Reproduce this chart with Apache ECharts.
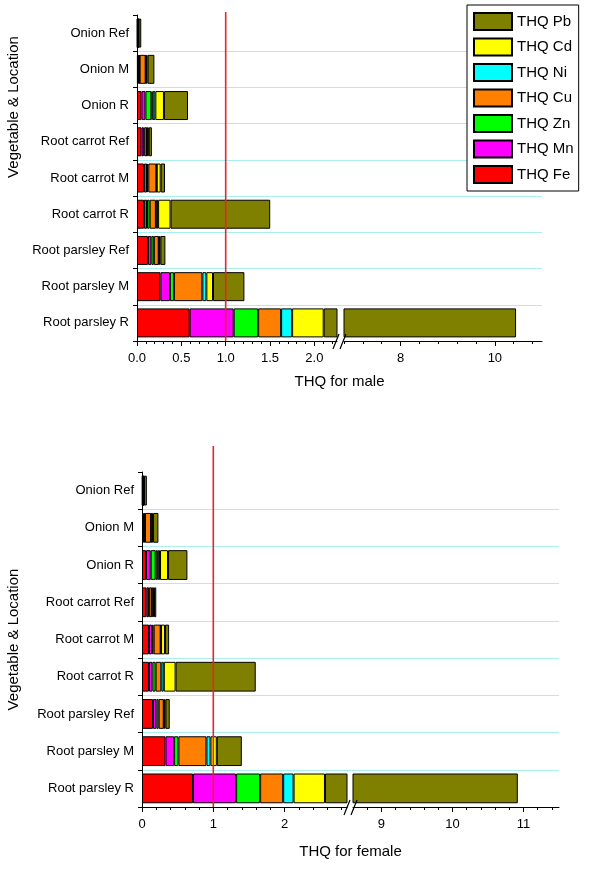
<!DOCTYPE html>
<html lang="en">
<head>
<meta charset="UTF-8">
<title>THQ</title>
<script src="https://cdn.jsdelivr.net/npm/echarts@6.0.0/dist/echarts.min.js"></script>
</head>
<body style="margin:0;background:#fff;">
<div id="main" style="width:600px;height:873px;"></div>
<script type="text/javascript">

    var categories = ['Onion Ref', 'Onion M', 'Onion R', 'Root carrot Ref', 'Root carrot M',
        'Root carrot R', 'Root parsley Ref', 'Root parsley M', 'Root parsley R'];
    var metals = ['THQ Fe', 'THQ Mn', 'THQ Zn', 'THQ Cu', 'THQ Ni', 'THQ Cd', 'THQ Pb'];
    var metalColors = ['#ff0000', '#ff00ff', '#00ff00', '#ff8000', '#00ffff', '#ffff00', '#808000'];
    var legendOrder = ['THQ Pb', 'THQ Cd', 'THQ Ni', 'THQ Cu', 'THQ Zn', 'THQ Mn', 'THQ Fe'];

    // male THQ, one value per category
    var maleFe = [0.005, 0.010, 0.050, 0.050, 0.079, 0.079, 0.124, 0.264, 0.594];
    var maleMn = [0.002, 0.015, 0.045, 0.025, 0.034, 0.034, 0.038, 0.108, 0.496];
    var maleZn = [0.002, 0.005, 0.067, 0.008, 0.015, 0.030, 0.028, 0.045, 0.276];
    var maleCu = [0.004, 0.068, 0.015, 0.030, 0.090, 0.070, 0.055, 0.320, 0.259];
    var maleNi = [0.002, 0.004, 0.030, 0.005, 0.005, 0.025, 0.006, 0.045, 0.124];
    var maleCd = [0.003, 0.018, 0.097, 0.015, 0.044, 0.140, 0.013, 0.075, 0.356];
    var malePb = [0.030, 0.076, 0.271, 0.035, 0.049, 1.124, 0.056, 0.354, 8.345];

    // female THQ
    var femaleFe = [0.008, 0.015, 0.056, 0.061, 0.098, 0.098, 0.155, 0.329, 0.716];
    var femaleMn = [0.003, 0.020, 0.066, 0.033, 0.042, 0.048, 0.047, 0.121, 0.604];
    var femaleZn = [0.003, 0.007, 0.070, 0.008, 0.024, 0.045, 0.032, 0.061, 0.337];
    var femaleCu = [0.006, 0.085, 0.030, 0.038, 0.098, 0.080, 0.071, 0.393, 0.323];
    var femaleNi = [0.003, 0.005, 0.031, 0.006, 0.005, 0.035, 0.008, 0.057, 0.146];
    var femaleCd = [0.005, 0.023, 0.112, 0.022, 0.056, 0.165, 0.016, 0.088, 0.440];
    var femalePb = [0.040, 0.075, 0.272, 0.032, 0.057, 1.124, 0.060, 0.351, 8.354];

    var threshold = 1;

    // broken axes: [left part, right part]
    var maleRange = [[0, 2.255], [6.8, 11]];
    var femaleRange = [[0, 2.875], [8.6, 11.5]];

    var maleMajor = [[0, 0.5, 1, 1.5, 2], [8, 10]];
    var maleMinor = [[0.1, 0.2, 0.3, 0.4, 0.6, 0.7, 0.8, 0.9, 1.1, 1.2, 1.3, 1.4, 1.6, 1.7, 1.8, 1.9, 2.1, 2.2],
        [6.8, 7.2, 7.6, 8.4, 8.8, 9.2, 9.6, 10.4, 10.8]];
    var femaleMajor = [[0, 1, 2], [9, 10, 11]];
    var femaleMinor = [[0.2, 0.4, 0.6, 0.8, 1.2, 1.4, 1.6, 1.8, 2.2, 2.4, 2.6, 2.8],
        [8.6, 8.8, 9.2, 9.4, 9.6, 9.8, 10.2, 10.4, 10.6, 10.8, 11.2, 11.4]];

    var FONT = 'Liberation Sans, Arial, sans-serif';
    var CYAN = '#a8f0f0';

    var myChart = echarts.init(document.getElementById('main'));

    var grid = [
        {left: 137, top: 15, width: 200, height: 326},   // 0 male left
        {left: 344, top: 15, width: 198, height: 326},   // 1 male right
        {left: 137, top: 12, width: 200, height: 329},   // 2 male threshold
        {left: 142, top: 472, width: 205, height: 335},  // 3 female left
        {left: 353, top: 472, width: 206, height: 335},  // 4 female right
        {left: 142, top: 446, width: 205, height: 361},  // 5 female threshold
        {left: 137, top: 15, width: 405, height: 326},   // 6 male full width (grid lines, title)
        {left: 142, top: 472, width: 417, height: 335}   // 7 female full width
    ];

    var xAxis = [], yAxis = [], series = [];

    function mainX(gi, range, major, fmt) {
        xAxis.push({
            type: 'value', gridIndex: gi, position: 'bottom',
            min: range[0], max: range[1],
            axisLine: {show: true, lineStyle: {color: '#000', width: 1}},
            axisTick: {show: true, length: 5, customValues: major, lineStyle: {color: '#000'}},
            axisLabel: {customValues: major, fontSize: 13, color: '#000', margin: 11,
                formatter: fmt},
            splitLine: {show: false}
        });
    }

    function thresholdX(gi, range) {
        xAxis.push({type: 'value', gridIndex: gi, min: range[0], max: range[1], show: false});
    }

    function minorX(gi, range, minor) {
        xAxis.push({
            type: 'value', gridIndex: gi, position: 'bottom',
            min: range[0], max: range[1],
            axisLine: {show: false},
            axisTick: {show: true, length: 3, customValues: minor, lineStyle: {color: '#000'}},
            axisLabel: {show: false},
            splitLine: {show: false}
        });
    }

    function titleX(gi, name, gap) {
        xAxis.push({
            type: 'value', gridIndex: gi, position: 'bottom', min: 0, max: 1,
            name: name, nameLocation: 'middle', nameGap: gap,
            nameTextStyle: {fontSize: 15, color: '#000'},
            axisLine: {show: false}, axisTick: {show: false},
            axisLabel: {show: false}, splitLine: {show: false}
        });
    }

    function catY(gi, withLabels, name, pad, gap) {
        yAxis.push({
            type: 'category', gridIndex: gi, data: categories, inverse: true,
            name: withLabels ? name : '', nameLocation: 'middle', nameGap: gap,
            nameTextStyle: {fontSize: 15, color: '#000', padding: [0, 0, 0, pad]},
            axisLine: {show: withLabels, lineStyle: {color: '#000', width: 1}},
            axisTick: {show: withLabels, length: 4, lineStyle: {color: '#000'}},
            axisLabel: {show: withLabels, fontSize: 13, color: '#000', margin: 8},
            splitLine: {show: false}
        });
    }

    function gridLinesY(gi) {
        yAxis.push({
            type: 'category', gridIndex: gi, data: categories, inverse: true,
            axisLine: {show: false}, axisTick: {show: false}, axisLabel: {show: false},
            splitLine: {show: true, interval: 0, showMinLine: false, showMaxLine: false,
                lineStyle: {color: CYAN, width: 1}}
        });
    }

    function addStack(values, xi, key) {
        for (var i = 0; i < metals.length; i++) {
            series.push({
                type: 'bar', name: metals[i], stack: key,
                xAxisIndex: xi, yAxisIndex: xi,
                data: values[i], barCategoryGap: '20%', clip: true,
                itemStyle: {color: metalColors[i], borderColor: '#000', borderWidth: 1}
            });
        }
    }

    function addThreshold(xi) {
        series.push({
            type: 'line', xAxisIndex: xi, yAxisIndex: xi, z: 5, silent: true,
            data: [[threshold, 0], [threshold, 1]], symbol: 'none',
            lineStyle: {color: '#e8232a', width: 1.6}
        });
    }

    var fmt1 = function (v) { return v.toFixed(1); };
    var fmt0 = function (v) { return String(v); };

    // x axes 0..5 follow the grids, 6..9 carry the minor ticks, 10..11 the titles
    mainX(0, maleRange[0], maleMajor[0], fmt1);
    mainX(1, maleRange[1], maleMajor[1], fmt0);
    thresholdX(2, maleRange[0]);
    mainX(3, femaleRange[0], femaleMajor[0], fmt0);
    mainX(4, femaleRange[1], femaleMajor[1], fmt0);
    thresholdX(5, femaleRange[0]);
    minorX(0, maleRange[0], maleMinor[0]);
    minorX(1, maleRange[1], maleMinor[1]);
    minorX(3, femaleRange[0], femaleMinor[0]);
    minorX(4, femaleRange[1], femaleMinor[1]);
    titleX(6, 'THQ for male', 33);
    titleX(7, 'THQ for female', 37);

    catY(0, true, 'Vegetable & Location', 142, 116);
    catY(1, false);
    yAxis.push({type: 'value', gridIndex: 2, min: 0, max: 1, show: false});
    catY(3, true, 'Vegetable & Location', 0, 121);
    catY(4, false);
    yAxis.push({type: 'value', gridIndex: 5, min: 0, max: 1, show: false});
    gridLinesY(6);
    gridLinesY(7);

    var maleData = [maleFe, maleMn, maleZn, maleCu, maleNi, maleCd, malePb];
    var femaleData = [femaleFe, femaleMn, femaleZn, femaleCu, femaleNi, femaleCd, femalePb];
    addStack(maleData, 0, 'mL');
    addStack(maleData, 1, 'mR');
    addStack(femaleData, 3, 'fL');
    addStack(femaleData, 4, 'fR');
    addThreshold(2);
    addThreshold(5);

    // "//" marks at the axis breaks
    function breakMarks(x, yAxisLine) {
        var s = {stroke: '#000', lineWidth: 1.2};
        return [
            {type: 'line', shape: {x1: x, y1: yAxisLine + 8, x2: x + 6, y2: yAxisLine - 7}, style: s, z: 10},
            {type: 'line', shape: {x1: x + 7, y1: yAxisLine + 8, x2: x + 13, y2: yAxisLine - 7}, style: s, z: 10}
        ];
    }
    var maleBreakX = grid[0].left + grid[0].width - 4;
    var femaleBreakX = grid[3].left + grid[3].width - 3;

    var option = {
        animation: false,
        backgroundColor: '#fff',
        textStyle: {fontFamily: FONT, color: '#000'},
        legend: {
            data: legendOrder, orient: 'vertical', left: 467, top: 5,
            padding: [7, 5, 7, 6], itemWidth: 38, itemHeight: 17, itemGap: 6.5,
            icon: 'rect', selectedMode: false,
            backgroundColor: '#fff', borderColor: '#000', borderWidth: 1,
            textStyle: {fontSize: 15, color: '#000', fontFamily: FONT}
        },
        grid: grid,
        xAxis: xAxis,
        yAxis: yAxis,
        series: series,
        graphic: breakMarks(maleBreakX, grid[0].top + grid[0].height)
            .concat(breakMarks(femaleBreakX, grid[3].top + grid[3].height))
    };

    myChart.setOption(option);

</script>
</body>
</html>
